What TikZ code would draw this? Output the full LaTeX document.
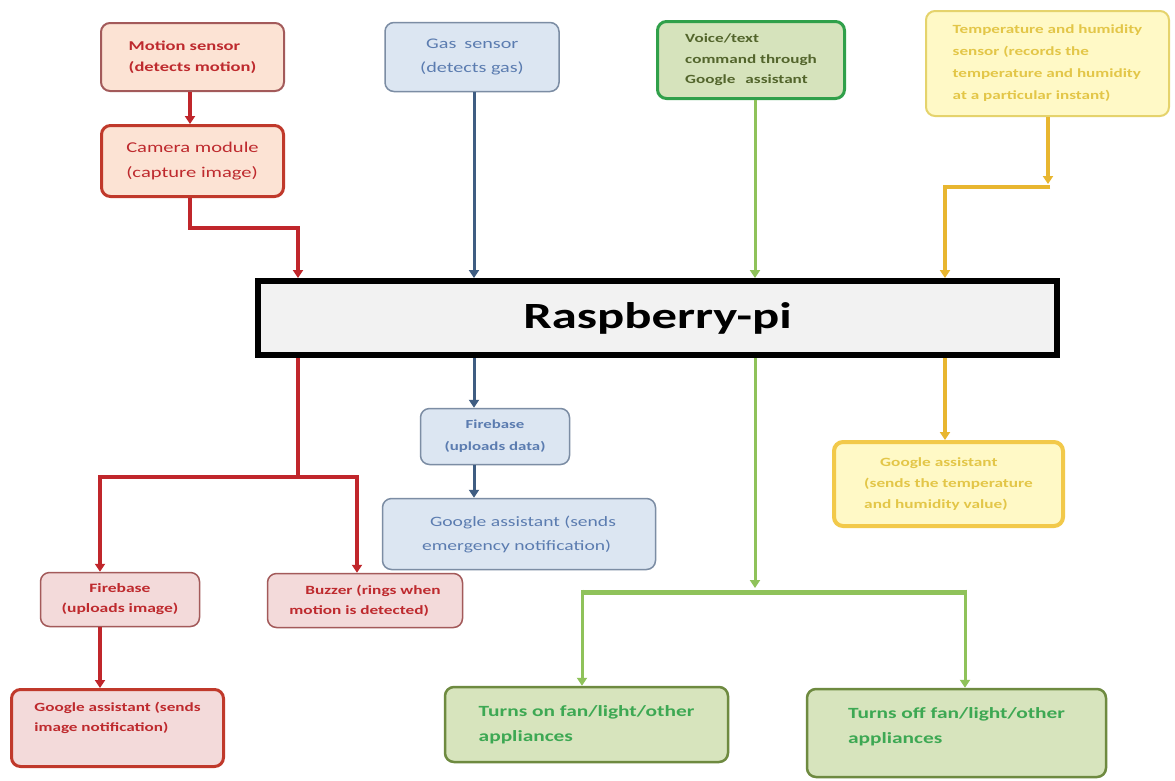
\documentclass[tikz,border=0pt]{standalone}
\usepackage{fontspec}
\setmainfont{Carlito}[FakeStretch=1.37]
\usetikzlibrary{arrows.meta,calc}
\definecolor{redtxt}{HTML}{BE2A2E}
\definecolor{redln}{HTML}{C0262B}
\definecolor{redbd}{HTML}{C0392B}
\definecolor{peach}{HTML}{FCE3D4}
\definecolor{pinkfill}{HTML}{F3DADA}
\definecolor{pinkbd}{HTML}{A35A5A}
\definecolor{bluefill}{HTML}{DCE6F2}
\definecolor{bluebd}{HTML}{7C8DA4}
\definecolor{bluetxt}{HTML}{5B7CB0}
\definecolor{blueln}{HTML}{3F5D82}
\definecolor{vfill}{HTML}{D6E3BC}
\definecolor{vbd}{HTML}{30A04A}
\definecolor{vtxt}{HTML}{53652C}
\definecolor{greenln}{HTML}{8FC25A}
\definecolor{tfill}{HTML}{D7E4BD}
\definecolor{tbd}{HTML}{6E8A40}
\definecolor{ttxt}{HTML}{3DA853}
\definecolor{yfill}{HTML}{FFF9C6}
\definecolor{ybd}{HTML}{E5D36C}
\definecolor{ytxt}{HTML}{E3C648}
\definecolor{ybd2}{HTML}{F2C94A}
\definecolor{goldln}{HTML}{E8B630}
\definecolor{raspfill}{HTML}{F2F2F2}
\newcommand{\setfs}[2]{\fontsize{#1}{#2}\selectfont}
\begin{document}
\begin{tikzpicture}[x=1pt,y=-1pt,
  box/.style={rounded corners=9pt, align=left, inner sep=0pt},
  tip/.style={-{Triangle[width=10pt,length=8pt]}},
  redarrow/.style={draw=redln, line width=3.5pt, tip},
  bluearrow/.style={draw=blueln, line width=3pt, tip},
  greenarrow/.style={draw=greenln, line width=3pt, tip},
  goldarrow/.style={draw=goldln, line width=3.5pt, tip}
]
\useasboundingbox[fill=white] (0,0) rectangle (1175,780);

% top row
\node[box, fill=peach, draw=pinkbd, line width=2pt, minimum width=183pt, minimum height=68pt,
  text=redtxt, font=\bfseries\setfs{13.5}{21}] (motion) at (192.5,57)
  {Motion sensor\\(detects motion)};
\node[box, fill=peach, draw=redbd, line width=3pt, minimum width=182pt, minimum height=71pt,
  text=redtxt, font=\setfs{15}{25}] (camera) at (192.5,161)
  {Camera module\\(capture image)};
\node[box, fill=bluefill, draw=bluebd, line width=1.5pt, minimum width=174pt, minimum height=69pt,
  text=bluetxt, font=\setfs{14.7}{24}] (gas) at (472,57)
  {\hspace{6pt}Gas\hspace{8pt}sensor\\(detects gas)};
\node[box, fill=vfill, draw=vbd, line width=3pt, minimum width=187pt, minimum height=77pt,
  text=vtxt, font=\bfseries\setfs{12.5}{20.5}] (voice) at (751,60)
  {Voice/text\\command through\\Google\hspace{10pt}assistant};
\node[box, fill=yfill, draw=ybd, line width=2pt, minimum width=243pt, minimum height=105pt,
  text=ytxt, font=\bfseries\setfs{12.5}{22}] (temp) at (1047.5,63.5)
  {Temperature and humidity\\sensor (records the\\temperature and humidity\\at a particular instant)};

% centre
\node[draw=black, line width=6pt, fill=raspfill, minimum width=799pt, minimum height=74pt,
  font=\bfseries\setfs{37}{40}] (rasp) at (657.5,318) {Raspberry-pi};

% blue branch
\node[box, fill=bluefill, draw=bluebd, line width=1.5pt, minimum width=149pt, minimum height=56pt,
  align=center, text=bluetxt, font=\bfseries\setfs{12.3}{22}] (fbdata) at (495,436.5)
  {Firebase\\(uploads data)};
\node[box, fill=bluefill, draw=bluebd, line width=1.5pt, minimum width=273pt, minimum height=71pt,
  text=bluetxt, font=\setfs{14.3}{24}] (gemerg) at (519,534)
  {\hspace{8pt}Google assistant (sends\\emergency notification)};

% gold branch
\node[box, fill=yfill, draw=ybd2, line width=4pt, minimum width=229pt, minimum height=84pt,
  text=ytxt, font=\bfseries\setfs{12.6}{21}] (gyel) at (948.5,484)
  {\hspace{16pt}Google assistant\\(sends the temperature\\and humidity value)};

% red branch
\node[box, fill=pinkfill, draw=pinkbd, line width=1.5pt, minimum width=159pt, minimum height=54pt,
  align=center, text=redtxt, font=\bfseries\setfs{12.8}{20}] (fbimg) at (120,599.5)
  {Firebase\\(uploads image)};
\node[box, fill=pinkfill, draw=pinkbd, line width=1.5pt, minimum width=195pt, minimum height=54pt,
  text=redtxt, font=\bfseries\setfs{12.6}{20}] (buzzer) at (365,600.5)
  {\hspace{16pt}Buzzer (rings when\\motion is detected)};
\node[box, fill=pinkfill, draw=redbd, line width=3pt, minimum width=212pt, minimum height=77pt,
  text=redtxt, text depth=22pt, font=\bfseries\setfs{12.5}{20}] (gimg) at (117.5,728)
  {Google assistant (sends\\image notification)};

% green branch
\node[box, fill=tfill, draw=tbd, line width=2.5pt, minimum width=283pt, minimum height=75pt,
  text=ttxt, font=\bfseries\setfs{15.6}{25}] (turnon) at (586.5,724.5)
  {Turns on fan/light/other\\appliances};
\node[box, fill=tfill, draw=tbd, line width=2.5pt, minimum width=299pt, minimum height=88pt,
  text=ttxt, text depth=15pt, font=\bfseries\setfs{15.6}{25}] (turnoff) at (956.5,733)
  {Turns off fan/light/other\\appliances};

% connector junctions
\coordinate (camturn) at (190,228);
\coordinate (rsplit) at (298,477);
\coordinate (tempturn) at (1048,187);
\coordinate (tempL) at (945,187);
\coordinate (bx) at (474,0);
\coordinate (gx) at (755,0);
\coordinate (gL) at (582,592);
\coordinate (gR) at (965,592);

% inputs to Raspberry-pi
\draw[redarrow] ([xshift=-2.5]motion.south) -- ([xshift=-2.5]camera.north);
\draw[redarrow] ([xshift=-2.5]camera.south) -- (camturn) -| (rsplit |- rasp.north);
\draw[bluearrow] (bx |- gas.south) -- (bx |- rasp.north);
\draw[greenarrow] (gx |- voice.south) -- (gx |- rasp.north);
\draw[goldarrow] ([xshift=0.5]temp.south) -- ([yshift=3]tempturn);
\draw[goldarrow] ([xshift=2]tempturn) -- (tempL) -- (tempL |- rasp.north);

% outputs from Raspberry-pi
\draw[draw=redln, line width=4pt] (rsplit |- rasp.south) -- (rsplit);
\draw[redarrow] ([xshift=2]rsplit) -| ([xshift=-20]fbimg.north);
\draw[redarrow] ([xshift=-2]rsplit) -| ([xshift=-8]buzzer.north);
\draw[redarrow] ([xshift=-20]fbimg.south) -- ([xshift=-17.5]gimg.north);

\draw[bluearrow] (bx |- rasp.south) -- (bx |- fbdata.north);
\draw[bluearrow] (bx |- fbdata.south) -- (bx |- gemerg.north);

\draw[goldarrow] (tempL |- rasp.south) -- (tempL |- gyel.north);

\draw[greenarrow] (gx |- rasp.south) -- ([yshift=4]gx |- gL);
\draw[draw=greenln, line width=5pt] (gL) -- (gR);
\draw[greenarrow] ([yshift=2.5]gL) -- (gL |- turnon.north);
\draw[greenarrow] ([yshift=2.5]gR) -- (gR |- turnoff.north);
\end{tikzpicture}
\end{document}
